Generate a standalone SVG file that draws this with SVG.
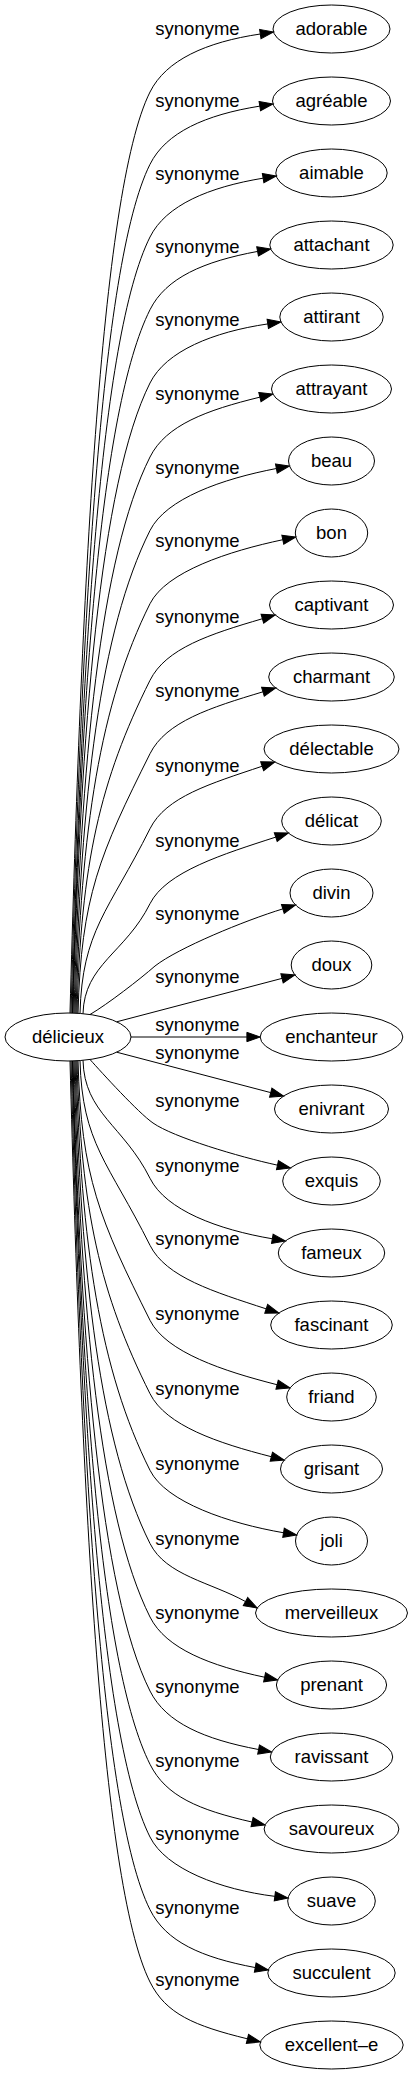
<svg xmlns="http://www.w3.org/2000/svg" width="413" height="2075" viewBox="0 0 413 2075">
<style>
text{font-family:"Liberation Sans",Arial,sans-serif;font-size:18.5px;fill:#000;text-anchor:middle}
.node ellipse{fill:none;stroke:#000;stroke-width:1}
#edges path{fill:none;stroke:#000;stroke-width:1;marker-end:url(#arr)}
</style>
<defs>
<marker id="arr" markerUnits="userSpaceOnUse" markerWidth="15" markerHeight="11" refX="0" refY="5" orient="auto" overflow="visible">
<path d="M0,0.33 L13.3,5 L0,9.67 z" fill="#000" stroke="#000" stroke-width="1"/>
</marker>
</defs>
<rect width="413" height="2075" fill="#fff"/>
<g id="edges">
<path d="M70,1013 C81.1,598.5 100,192 150,92 C166,60 205.9,42.1 260.3,34"/>
<path d="M71,1013 C81.2,631.1 100,264.3 150,164.3 C166,132.3 205.5,114.8 259.83,106.11"/>
<path d="M72,1013 C81.3,663.8 100,337 150,237 C166,205 208.86,187.16 263.12,178.17"/>
<path d="M72.5,1013 C80.9,696.5 100,409.7 150,309.7 C166,277.7 203.52,261.48 257.59,251.43"/>
<path d="M73,1013 C80.6,729.5 100,483 150,383 C166,351 213.35,331.91 267.77,323.93"/>
<path d="M74,1013 C80.7,762.8 100,557 150,457 C166,425 206.46,410.17 259.9,397.15"/>
<path d="M75,1013 C80.8,795.9 100,630.5 150,530.5 C166,498.5 222.36,478.89 276.38,468.51"/>
<path d="M76,1013.2 C80.9,828.9 100,703.7 150,603.7 C166,571.7 228.96,551.02 282.79,539.73"/>
<path d="M77,1013.25 C81,863.4 100,780.3 150,680.3 C166,648.3 209.6,634.21 262.38,618.74"/>
<path d="M78,1013.3 C81.1,896.5 100,853.7 150,753.7 C166,721.7 210.26,707.62 262.94,691.82"/>
<path d="M80,1013.4 C82.2,930.3 108.45,911.8 150,828.7 C166,796.7 210.04,783.79 262.16,766.24"/>
<path d="M83,1013.7 C84.3,964.2 125.25,953.2 150,903.7 C166,871.7 223.43,854.07 275.75,837.1"/>
<path d="M90,1014.5 C107.2,1004.5 140,979.2 155,966 C178,948 244.59,920.59 282.84,908.89"/>
<path d="M116.7,1021.8 L282.03,978.38"/>
<path d="M131,1037 L246.9,1037"/>
<path d="M116.7,1052.2 L270.73,1092.62"/>
<path d="M90,1059.5 C102.1,1073 138.2,1112.7 153,1123 C173.5,1137.3 238.4,1156.66 277.48,1165.17"/>
<path d="M83,1060.3 C84.4,1113.4 123.45,1125.2 150,1178.3 C166,1210.3 218.1,1229.59 272.32,1238.78"/>
<path d="M80,1060.6 C82.2,1143.7 108.45,1162.2 150,1245.3 C166,1277.3 213.93,1291.78 266.21,1308.87"/>
<path d="M78,1060.7 C81.1,1177.5 100,1220.3 150,1320.3 C166,1352.3 223.77,1371.17 277.08,1384.72"/>
<path d="M77,1060.75 C81,1210.6 100,1293.7 150,1393.7 C166,1425.7 218.04,1443.09 271.33,1456.71"/>
<path d="M76,1060.8 C80.9,1245.1 100,1370.3 150,1470.3 C166,1502.3 229.32,1523.47 283.53,1532.75"/>
<path d="M75,1061 C80.8,1278.1 100,1443.5 150,1543.5 C166,1575.5 210.5,1582.2 245.53,1601.56"/>
<path d="M74,1061 C80.7,1311.2 100,1517 150,1617 C166,1649 210.8,1665.78 264.6,1677.23"/>
<path d="M73,1061 C80.6,1344.5 100,1591 150,1691 C166,1723 204.53,1739.27 258.57,1749.52"/>
<path d="M72.5,1061 C80.9,1377.5 100,1664.3 150,1764.3 C166,1796.3 198.44,1809.84 252.07,1822.05"/>
<path d="M72,1061 C81.3,1410.2 100,1737 150,1837 C166,1869 220.26,1889.54 274.84,1896.35"/>
<path d="M71,1061 C81.2,1442.9 100,1809.7 150,1909.7 C166,1941.7 201.16,1957.42 255.23,1967.55"/>
<path d="M70,1061 C81.1,1475.5 100,1882 150,1982 C166,2014 194.02,2025.71 247.44,2038.83"/>
</g>
<g id="labels">
<text x="197.5" y="35">synonyme</text>
<text x="197.5" y="107.3">synonyme</text>
<text x="197.5" y="180">synonyme</text>
<text x="197.5" y="252.7">synonyme</text>
<text x="197.5" y="326">synonyme</text>
<text x="197.5" y="400">synonyme</text>
<text x="197.5" y="473.5">synonyme</text>
<text x="197.5" y="546.7">synonyme</text>
<text x="197.5" y="623.3">synonyme</text>
<text x="197.5" y="696.7">synonyme</text>
<text x="197.5" y="771.7">synonyme</text>
<text x="197.5" y="846.7">synonyme</text>
<text x="197.5" y="920">synonyme</text>
<text x="197.5" y="983.3">synonyme</text>
<text x="197.5" y="1031">synonyme</text>
<text x="197.5" y="1058.5">synonyme</text>
<text x="197.5" y="1106.7">synonyme</text>
<text x="197.5" y="1171.7">synonyme</text>
<text x="197.5" y="1245">synonyme</text>
<text x="197.5" y="1320">synonyme</text>
<text x="197.5" y="1395">synonyme</text>
<text x="197.5" y="1469.5">synonyme</text>
<text x="197.5" y="1545">synonyme</text>
<text x="197.5" y="1619">synonyme</text>
<text x="197.5" y="1693">synonyme</text>
<text x="197.5" y="1766.7">synonyme</text>
<text x="197.5" y="1840">synonyme</text>
<text x="197.5" y="1914">synonyme</text>
<text x="197.5" y="1986">synonyme</text>
</g>
<g id="n-delicieux" class="node"><ellipse cx="68" cy="1037" rx="63" ry="24"/><text x="68" y="1043">délicieux</text></g>
<g id="n-adorable" class="node"><ellipse cx="331.5" cy="29" rx="58.5" ry="24"/><text x="331.5" y="35">adorable</text></g>
<g id="n-agreable" class="node"><ellipse cx="331.5" cy="101" rx="59" ry="24"/><text x="331.5" y="107">agréable</text></g>
<g id="n-aimable" class="node"><ellipse cx="331.5" cy="173" rx="55.7" ry="24"/><text x="331.5" y="179">aimable</text></g>
<g id="n-attachant" class="node"><ellipse cx="331.5" cy="245" rx="61.7" ry="24"/><text x="331.5" y="251">attachant</text></g>
<g id="n-attirant" class="node"><ellipse cx="331.5" cy="317" rx="51.7" ry="24"/><text x="331.5" y="323">attirant</text></g>
<g id="n-attrayant" class="node"><ellipse cx="331.5" cy="389" rx="60" ry="24"/><text x="331.5" y="395">attrayant</text></g>
<g id="n-beau" class="node"><ellipse cx="331.5" cy="461" rx="43" ry="24"/><text x="331.5" y="467">beau</text></g>
<g id="n-bon" class="node"><ellipse cx="331.5" cy="533" rx="36.2" ry="24"/><text x="331.5" y="539">bon</text></g>
<g id="n-captivant" class="node"><ellipse cx="331.5" cy="605" rx="62" ry="24"/><text x="331.5" y="611">captivant</text></g>
<g id="n-charmant" class="node"><ellipse cx="331.5" cy="677" rx="62.8" ry="24"/><text x="331.5" y="683">charmant</text></g>
<g id="n-delectable" class="node"><ellipse cx="331.5" cy="749" rx="67.5" ry="24"/><text x="331.5" y="755">délectable</text></g>
<g id="n-delicat" class="node"><ellipse cx="331.5" cy="821" rx="49.8" ry="24"/><text x="331.5" y="827">délicat</text></g>
<g id="n-divin" class="node"><ellipse cx="331.5" cy="893" rx="41.5" ry="24"/><text x="331.5" y="899">divin</text></g>
<g id="n-doux" class="node"><ellipse cx="331.5" cy="965" rx="40.3" ry="24"/><text x="331.5" y="971">doux</text></g>
<g id="n-enchanteur" class="node"><ellipse cx="331.5" cy="1037" rx="71.3" ry="24"/><text x="331.5" y="1043">enchanteur</text></g>
<g id="n-enivrant" class="node"><ellipse cx="331.5" cy="1109" rx="57" ry="24"/><text x="331.5" y="1115">enivrant</text></g>
<g id="n-exquis" class="node"><ellipse cx="331.5" cy="1181" rx="48.8" ry="24"/><text x="331.5" y="1187">exquis</text></g>
<g id="n-fameux" class="node"><ellipse cx="331.5" cy="1253" rx="53.2" ry="24"/><text x="331.5" y="1259">fameux</text></g>
<g id="n-fascinant" class="node"><ellipse cx="331.5" cy="1325" rx="60.8" ry="24"/><text x="331.5" y="1331">fascinant</text></g>
<g id="n-friand" class="node"><ellipse cx="331.5" cy="1397" rx="44.8" ry="24"/><text x="331.5" y="1403">friand</text></g>
<g id="n-grisant" class="node"><ellipse cx="331.5" cy="1469" rx="51" ry="24"/><text x="331.5" y="1475">grisant</text></g>
<g id="n-joli" class="node"><ellipse cx="331.5" cy="1541" rx="36" ry="24"/><text x="331.5" y="1547">joli</text></g>
<g id="n-merveilleux" class="node"><ellipse cx="331.5" cy="1613" rx="76" ry="24"/><text x="331.5" y="1619">merveilleux</text></g>
<g id="n-prenant" class="node"><ellipse cx="331.5" cy="1685" rx="55.1" ry="24"/><text x="331.5" y="1691">prenant</text></g>
<g id="n-ravissant" class="node"><ellipse cx="331.5" cy="1757" rx="61.2" ry="24"/><text x="331.5" y="1763">ravissant</text></g>
<g id="n-savoureux" class="node"><ellipse cx="331.5" cy="1829" rx="67.4" ry="24"/><text x="331.5" y="1835">savoureux</text></g>
<g id="n-suave" class="node"><ellipse cx="331.5" cy="1901" rx="43.8" ry="24"/><text x="331.5" y="1907">suave</text></g>
<g id="n-succulent" class="node"><ellipse cx="331.5" cy="1973" rx="63.7" ry="24"/><text x="331.5" y="1979">succulent</text></g>
<g id="n-excellent-e" class="node"><ellipse cx="331.5" cy="2045" rx="71.7" ry="24"/><text x="331.5" y="2051">excellent–e</text></g>
</svg>
